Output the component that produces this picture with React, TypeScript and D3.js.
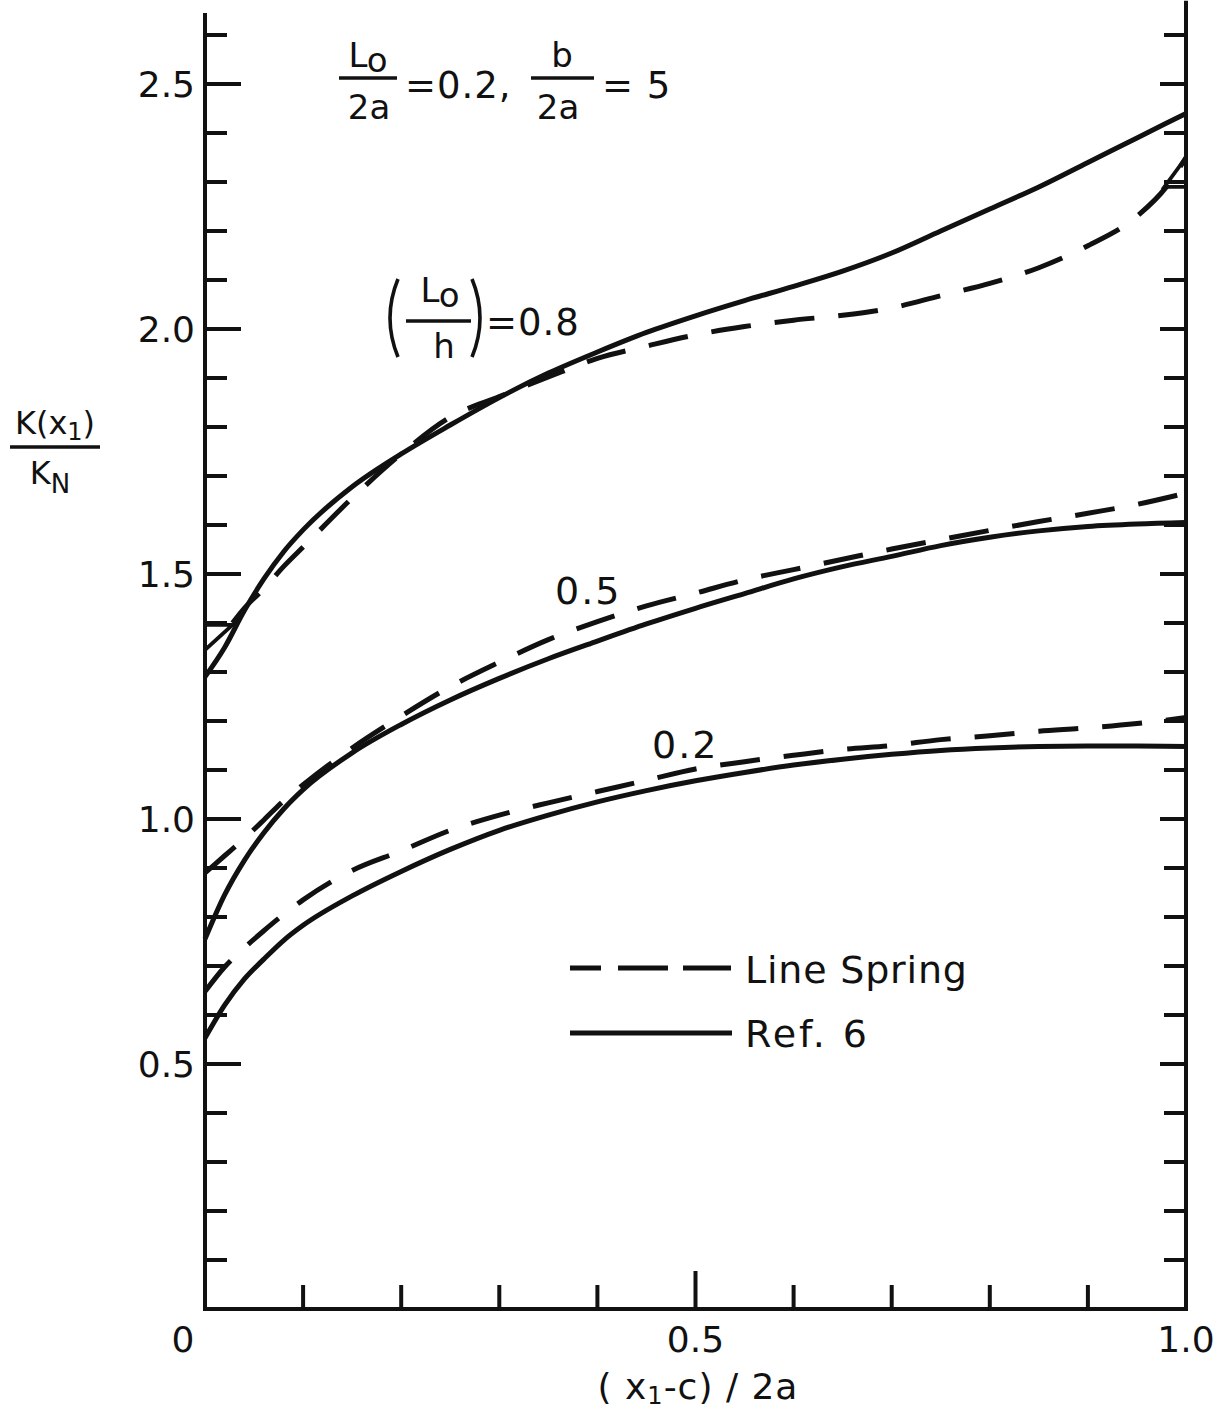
import { useEffect, useRef } from "react";
import * as d3 from "d3";

// abscissa (x1-c)/2a
const X_GRID = [0, 0.02, 0.04, 0.06, 0.08, 0.1, 0.15, 0.2, 0.25, 0.3, 0.35, 0.4, 0.45, 0.5, 0.55, 0.6, 0.65, 0.7, 0.75, 0.8, 0.85, 0.9, 0.95, 1.0];

// Ref. 6 (solid)
const REF6_08 = [1.29, 1.35, 1.425, 1.49, 1.545, 1.59, 1.678, 1.745, 1.804, 1.86, 1.91, 1.953, 1.993, 2.027, 2.058, 2.087, 2.118, 2.155, 2.2, 2.245, 2.29, 2.34, 2.39, 2.44];
const REF6_05 = [0.755, 0.845, 0.915, 0.972, 1.02, 1.06, 1.135, 1.193, 1.243, 1.287, 1.327, 1.363, 1.398, 1.43, 1.46, 1.49, 1.515, 1.536, 1.558, 1.575, 1.588, 1.597, 1.602, 1.605];
const REF6_02 = [0.553, 0.62, 0.673, 0.714, 0.752, 0.783, 0.843, 0.893, 0.938, 0.977, 1.008, 1.035, 1.058, 1.078, 1.095, 1.11, 1.122, 1.132, 1.14, 1.145, 1.148, 1.149, 1.149, 1.148];

// Line spring (dashed)
const LS_08_X = [0.028, 0.04, 0.06, 0.08, 0.1, 0.15, 0.2, 0.25, 0.3, 0.35, 0.4, 0.45, 0.5, 0.55, 0.6, 0.65, 0.7, 0.75, 0.8, 0.85, 0.9, 0.95, 0.98, 1.0];
const LS_08 = [1.4, 1.43, 1.47, 1.515, 1.555, 1.655, 1.745, 1.82, 1.862, 1.902, 1.94, 1.965, 1.988, 2.005, 2.018, 2.028, 2.043, 2.068, 2.093, 2.125, 2.17, 2.23, 2.29, 2.35];
const LS_05 = [0.89, 0.925, 0.96, 0.998, 1.037, 1.07, 1.145, 1.21, 1.27, 1.32, 1.366, 1.403, 1.435, 1.461, 1.488, 1.509, 1.53, 1.551, 1.57, 1.589, 1.607, 1.624, 1.642, 1.665];
const LS_02 = [0.648, 0.698, 0.737, 0.772, 0.805, 0.835, 0.895, 0.935, 0.977, 1.008, 1.033, 1.056, 1.079, 1.102, 1.117, 1.13, 1.142, 1.15, 1.162, 1.17, 1.179, 1.186, 1.195, 1.207];

// little triangles drawn at the ends of the 0.8 line spring curve
const MARK_LEFT: [number, number][] = [[0, 1.396], [0.028, 1.396], [0, 1.345]];
const MARK_RIGHT: [number, number][] = [[0.978, 2.29], [1.0, 2.35], [1.0, 2.29]];

const Y_TICKS = d3.range(1, 27).map((i) => i / 10);
const X_TICKS = d3.range(1, 10).map((i) => i / 10);
const Y_LABELS = ["0.5", "1.0", "1.5", "2.0", "2.5"];
const X_LABELS = ["0", "0.5", "1.0"];

const FONT = "'DejaVu Sans', sans-serif";

const App = () => {
	const svgRef = useRef<SVGSVGElement>(null);

	useEffect(() => {
		if (!svgRef.current) return;
		const svg = d3.select(svgRef.current);
		svg.selectAll("*").remove();

		const x = d3.scaleLinear().domain([0, 1]).range([205, 1186]);
		const y = d3.scaleLinear().domain([0, 2.5]).range([1309, 84]);

		svg.append("rect").attr("width", 1218).attr("height", 1417).attr("fill", "#fff");

		const ink = "#111";

		// axes frame
		const axes = svg.append("g").attr("stroke", ink).attr("stroke-width", 4).attr("fill", "none");
		axes.append("line").attr("x1", x(0)).attr("x2", x(0)).attr("y1", y(0) + 2).attr("y2", y(2.645));
		axes.append("line").attr("x1", x(1)).attr("x2", x(1)).attr("y1", y(0) + 2).attr("y2", y(2.67));
		axes.append("line").attr("x1", x(0)).attr("x2", x(1) + 2).attr("y1", y(0)).attr("y2", y(0));

		// y ticks, both sides pointing in
		Y_TICKS.forEach((t) => {
			const major = Math.abs(t * 2 - Math.round(t * 2)) < 1e-6;
			axes.append("line").attr("x1", x(0)).attr("x2", x(0) + (major ? 36 : 22)).attr("y1", y(t)).attr("y2", y(t));
			axes.append("line").attr("x1", x(1)).attr("x2", x(1) - (major ? 26 : 22)).attr("y1", y(t)).attr("y2", y(t));
		});
		// x ticks pointing up
		X_TICKS.forEach((t) => {
			const major = Math.abs(t - 0.5) < 1e-6;
			axes.append("line").attr("x1", x(t)).attr("x2", x(t)).attr("y1", y(0)).attr("y2", y(0) - (major ? 38 : 24));
		});

		// tick labels
		const labels = svg.append("g").attr("fill", ink).attr("font-family", FONT).attr("font-size", 36);
		Y_LABELS.forEach((s) => {
			labels.append("text").attr("x", x(0) - 10).attr("y", y(+s)).attr("dy", "0.36em").attr("text-anchor", "end").text(s);
		});
		X_LABELS.forEach((s) => {
			const v = +s;
			labels
				.append("text")
				.attr("x", v === 0 ? x(0) - 22 : x(v))
				.attr("y", y(0) + 30)
				.attr("dy", "0.36em")
				.attr("text-anchor", "middle")
				.text(s);
		});

		// curves
		const line = d3
			.line<[number, number]>()
			.x((d) => x(d[0]))
			.y((d) => y(d[1]))
			.curve(d3.curveMonotoneX);

		const zip = (xs: number[], ys: number[]) => xs.map((v, i) => [v, ys[i]] as [number, number]);
		const curves = svg.append("g").attr("fill", "none").attr("stroke", ink).attr("stroke-width", 5).attr("stroke-linecap", "butt");

		[REF6_08, REF6_05, REF6_02].forEach((ys) => {
			curves.append("path").attr("d", line(zip(X_GRID, ys)));
		});
		[
			zip(LS_08_X, LS_08),
			zip(X_GRID, LS_05),
			zip(X_GRID, LS_02),
		].forEach((pts) => {
			curves.append("path").attr("d", line(pts)).attr("stroke-dasharray", "40 24");
		});

		const tri = d3.line<[number, number]>().x((d) => x(d[0])).y((d) => y(d[1]));
		[MARK_LEFT, MARK_RIGHT].forEach((m) => {
			curves.append("path").attr("d", tri(m) + "Z").attr("stroke-width", 3.8).attr("stroke-linejoin", "miter");
		});

		// helper for text with sub/superscript pieces
		type Part = { t: string; dy?: number; size?: number; dx?: number };
		const rich = (g: any, px: number, py: number, parts: Part[], size: number, anchor = "start", spacing = 0) => {
			const txt = g
				.append("text")
				.attr("x", px)
				.attr("y", py)
				.attr("font-family", FONT)
				.attr("font-size", size)
				.attr("letter-spacing", spacing)
				.attr("fill", ink)
				.attr("text-anchor", anchor);
			parts.forEach((p) => {
				const ts = txt.append("tspan").text(p.t);
				if (p.dy) ts.attr("dy", p.dy);
				if (p.dx) ts.attr("dx", p.dx);
				if (p.size) ts.attr("font-size", p.size);
			});
			return txt;
		};

		const ann = svg.append("g");
		const fracBar = (x1: number, x2: number, yy: number) =>
			ann.append("line").attr("x1", x1).attr("x2", x2).attr("y1", yy).attr("y2", yy).attr("stroke", ink).attr("stroke-width", 3.6);

		// top parameters: Lo/2a = 0.2, b/2a = 5
		rich(ann, 368, 67, [{ t: "L" }, { t: "o", dy: 5 }], 34, "middle");
		fracBar(339, 397, 78);
		rich(ann, 369, 119, [{ t: "2a" }], 34, "middle");
		rich(ann, 405, 98, [{ t: "=0.2," }], 37, "start", 1);
		rich(ann, 562, 67, [{ t: "b" }], 34, "middle");
		fracBar(531, 594, 78);
		rich(ann, 558, 119, [{ t: "2a" }], 34, "middle");
		rich(ann, 602, 98, [{ t: "= 5" }], 37, "start", 1);

		// (Lo/h)=0.8
		rich(ann, 440, 302, [{ t: "L" }, { t: "o", dy: 5 }], 34, "middle");
		fracBar(406, 471, 321);
		rich(ann, 444, 358, [{ t: "h" }], 34, "middle");
		const paren = (cx: number, dir: number) =>
			ann
				.append("path")
				.attr("d", `M${cx + 6 * dir},279 Q${cx - 10 * dir},318 ${cx + 6 * dir},357`)
				.attr("fill", "none")
				.attr("stroke", ink)
				.attr("stroke-width", 3.6);
		paren(392, 1);
		paren(478, -1);
		rich(ann, 486, 335, [{ t: "=0.8" }], 37, "start", 1);

		rich(ann, 555, 604, [{ t: "0.5" }], 38, "start", 2);
		rich(ann, 652, 758, [{ t: "0.2" }], 38, "start", 2);

		// legend
		const lg = svg.append("g");
		lg.append("line").attr("x1", 570).attr("x2", 731).attr("y1", 968).attr("y2", 968)
			.attr("stroke", ink).attr("stroke-width", 5).attr("stroke-dasharray", "31 17 50 15 48");
		lg.append("line").attr("x1", 570).attr("x2", 732).attr("y1", 1033).attr("y2", 1033)
			.attr("stroke", ink).attr("stroke-width", 5);
		rich(lg, 745, 983, [{ t: "Line Spring" }], 38, "start", 0.8);
		rich(lg, 745, 1047, [{ t: "Ref. 6" }], 38, "start", 3);

		// axis titles
		rich(ann, 55, 434, [{ t: "K(x" }, { t: "1", dy: 6, size: 24 }, { t: ")", dy: -6 }], 32, "middle");
		fracBar(10, 100, 447);
		rich(ann, 50, 484, [{ t: "K" }, { t: "N", dy: 9, size: 26 }], 32, "middle");

		rich(ann, 698, 1399, [{ t: "( x" }, { t: "1", dy: 5, size: 24 }, { t: "-c) / 2a", dy: -5 }], 36, "middle", 1);
	}, []);

	return (
		<svg
			ref={svgRef}
			width={1218}
			height={1417}
			style={{ position: "absolute", left: 0, top: 0, display: "block" }}
		></svg>
	);
};

export default App;
